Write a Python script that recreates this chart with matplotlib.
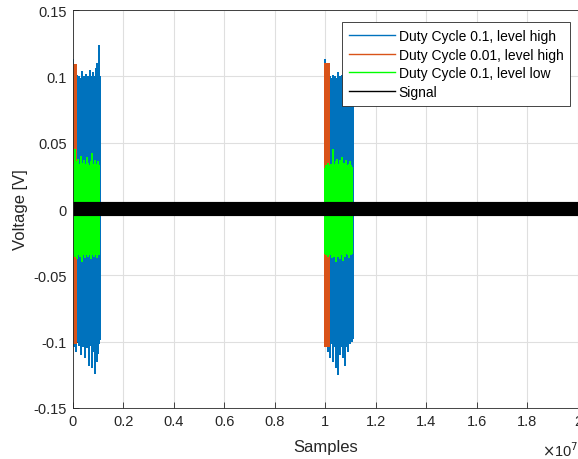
import numpy as np
import matplotlib.pyplot as plt

plt.rcParams['font.family'] = ['Liberation Sans', 'DejaVu Sans']

# burst windows (samples)
burst_starts = [0, 1.0e7]
blue_len = 1.1e6
orange_len = 0.15e6
green_len = 1.05e6

# envelope peaks (V)
blue_top_1 = [0.113, 0.104, 0.099, 0.1, 0.097, 0.101, 0.098, 0.1, 0.096, 0.099, 0.104, 0.098,
              0.1, 0.097, 0.102, 0.099, 0.1, 0.098, 0.105, 0.1, 0.097, 0.103, 0.1, 0.099,
              0.106, 0.1, 0.11, 0.102, 0.124, 0.1]
blue_bot_1 = [-0.1, -0.098, -0.104, -0.1, -0.108, -0.099, -0.1, -0.103, -0.098, -0.11, -0.1, -0.104,
              -0.099, -0.112, -0.1, -0.105, -0.1, -0.118, -0.103, -0.099, -0.12, -0.108, -0.1, -0.124,
              -0.104, -0.115, -0.1, -0.109, -0.102, -0.099]
blue_top_2 = [0.113, 0.108, 0.1, 0.102, 0.098, 0.1, 0.097, 0.099, 0.101, 0.098, 0.1, 0.096,
              0.099, 0.103, 0.098, 0.1, 0.097, 0.101, 0.099, 0.1, 0.104, 0.098, 0.1, 0.102,
              0.099, 0.1, 0.098, 0.1, 0.097, 0.099]
blue_bot_2 = [-0.1, -0.104, -0.099, -0.108, -0.1, -0.112, -0.102, -0.1, -0.115, -0.104, -0.1, -0.12,
              -0.108, -0.125, -0.1, -0.11, -0.104, -0.1, -0.112, -0.103, -0.099, -0.118, -0.104, -0.1,
              -0.108, -0.1, -0.102, -0.099, -0.1, -0.098]
orange_top = [0.109, 0.11]
orange_bot = [-0.102, -0.104]
green_top_1 = [0.033, 0.034, 0.045, 0.036, 0.033, 0.038, 0.034, 0.032, 0.04, 0.035, 0.033, 0.037,
               0.034, 0.033, 0.039, 0.035, 0.033, 0.036, 0.042, 0.034, 0.033, 0.037, 0.034, 0.033,
               0.036, 0.033]
green_bot_1 = [-0.035, -0.034, -0.036, -0.035, -0.038, -0.034, -0.035, -0.036, -0.034, -0.04, -0.035, -0.034,
               -0.037, -0.035, -0.034, -0.036, -0.035, -0.038, -0.034, -0.035, -0.036, -0.034, -0.035, -0.037,
               -0.034, -0.035]
green_top_2 = [0.031, 0.033, 0.032, 0.035, 0.033, 0.034, 0.032, 0.045, 0.034, 0.033, 0.036, 0.038,
               0.034, 0.033, 0.037, 0.034, 0.039, 0.033, 0.035, 0.034, 0.037, 0.033, 0.034, 0.036,
               0.033, 0.032]
green_bot_2 = [-0.034, -0.035, -0.034, -0.036, -0.035, -0.034, -0.037, -0.035, -0.036, -0.034, -0.04, -0.035,
               -0.036, -0.034, -0.038, -0.035, -0.034, -0.039, -0.035, -0.036, -0.034, -0.035, -0.037, -0.034,
               -0.035, -0.034]
signal_x = [0, 2e7]
signal_y = [0, 0]

xticks = np.arange(0, 2.01e7, 0.2e7)
xticklabels = ['0', '0.2', '0.4', '0.6', '0.8', '1', '1.2', '1.4', '1.6', '1.8', '2']
yticks = [-0.15, -0.1, -0.05, 0, 0.05, 0.1, 0.15]
yticklabels = ['-0.15', '-0.1', '-0.05', '0', '0.05', '0.1', '0.15']

c_blue = '#0072BD'
c_orange = '#D95319'
c_green = '#00FF00'
c_text = '#262626'


def burst(ax, start, length, top, bot, color, lw=1.4):
    xs = np.linspace(start, start + length, len(top))
    ax.vlines(xs, bot, top, color=color, lw=lw, antialiased=False)


fig = plt.figure(figsize=(5.78, 4.60), dpi=100)
ax = fig.add_axes([0.1255, 0.1109, 0.8745, 0.865])

burst(ax, burst_starts[0], blue_len, blue_top_1, blue_bot_1, c_blue)
burst(ax, burst_starts[1], blue_len, blue_top_2, blue_bot_2, c_blue)
for i, s in enumerate(burst_starts):
    burst(ax, s, orange_len, [orange_top[i]] * 4, [orange_bot[i]] * 4, c_orange)
burst(ax, burst_starts[0], green_len, green_top_1, green_bot_1, c_green)
burst(ax, burst_starts[1], green_len, green_top_2, green_bot_2, c_green)
ax.plot(signal_x, signal_y, color='black', lw=10.2, solid_capstyle='butt')

# legend handles
ax.plot([], [], color=c_blue, lw=1, label='Duty Cycle 0.1, level high')
ax.plot([], [], color=c_orange, lw=1, label='Duty Cycle 0.01, level high')
ax.plot([], [], color=c_green, lw=1, label='Duty Cycle 0.1, level low')
ax.plot([], [], color='black', lw=1, label='Signal')

ax.set_xlim(0, 2e7)
ax.set_ylim(-0.15, 0.15)
ax.set_xticks(xticks)
ax.set_xticklabels(xticklabels)
ax.set_yticks(yticks)
ax.set_yticklabels(yticklabels)
ax.tick_params(direction='in', length=4, labelsize=10.5, colors=c_text, width=0.6, pad=4)
ax.grid(True, color='#DFDFDF', lw=0.8)
ax.set_axisbelow(True)
for sp in ax.spines.values():
    sp.set_linewidth(0.6)
    sp.set_color(c_text)

ax.set_xlabel('Samples', fontsize=12, color=c_text, labelpad=8)
ax.set_ylabel('Voltage [V]', fontsize=12, color=c_text, labelpad=4)
fig.text(0.937, 0.006, r'$\times$10$^7$', fontsize=10.5, color=c_text, va='baseline')

leg = ax.legend(loc='upper right', bbox_to_anchor=(0.985, 0.97), fontsize=10, frameon=True,
                fancybox=False, edgecolor=c_text, framealpha=1, borderpad=0.5, labelspacing=0.33,
                handlelength=3.3, handletextpad=0.3, borderaxespad=0)
leg.get_frame().set_linewidth(0.6)

fig.savefig('out.png', dpi=100)
